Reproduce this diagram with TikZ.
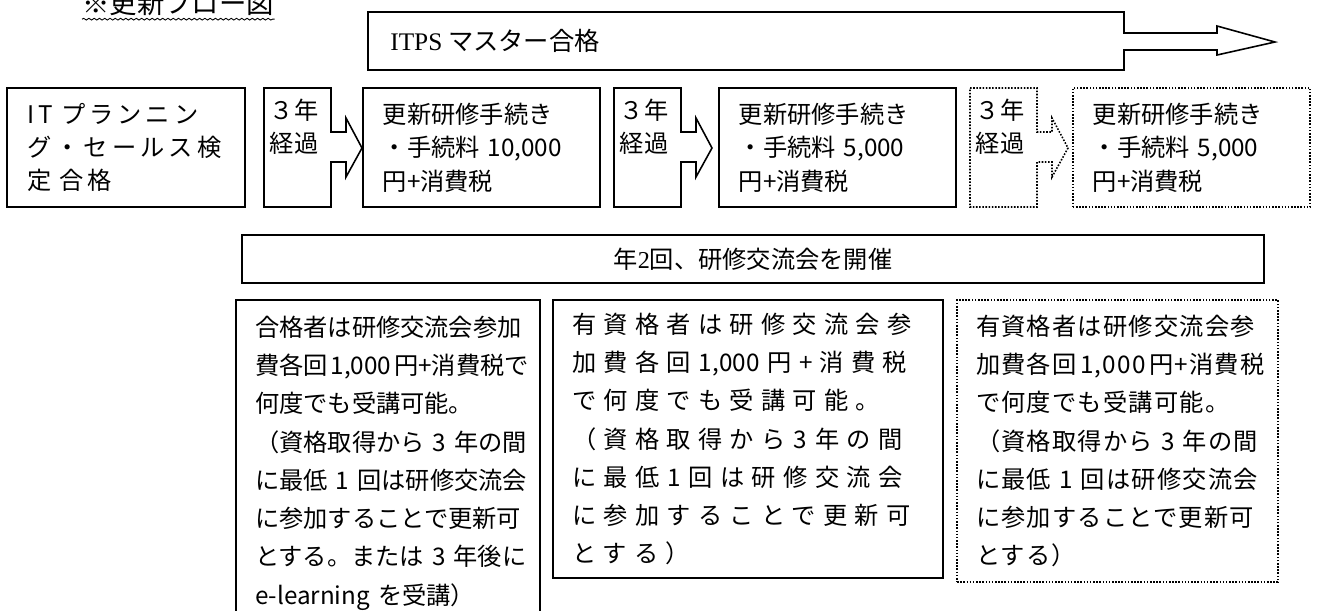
\documentclass[tikz,border=0pt]{standalone}
\usepackage{fontspec}
\usetikzlibrary{positioning}
\usetikzlibrary{decorations.pathmorphing}
\newfontfamily\gothic{Noto Sans CJK JP}
\newfontfamily\gothicspread{Noto Sans CJK JP}[LetterSpace=16.7]
\newfontfamily\gothicwide{Noto Sans CJK JP}[LetterSpace=30]
\newfontfamily\gothicloose{Noto Sans CJK JP}[LetterSpace=5]
\newfontfamily\mincho{Liberation Serif}
\tikzset{
  plainline/.style = {line width=0.9pt},
  dotline/.style = {line width=0.9pt, dash pattern=on 0.9pt off 0.9pt},
  wavy/.style = {decorate, decoration={snake, amplitude=0.5pt, segment length=3pt}, line width=0.5pt},
  titletext/.style = {inner sep=0pt, font=\gothic\fontsize{15.6}{18}\selectfont},
  rowtext/.style = {inner sep=0pt, font=\gothic\fontsize{14.4}{19}\selectfont},
  stepbox/.style = {draw, plainline, inner xsep=0.4cm, inner ysep=0pt, text width=3.95cm, minimum height=2.38cm, align=left, font=\gothic\fontsize{13.8}{19}\selectfont},
  yeartext/.style = {inner sep=0pt, align=left, font=\gothic\fontsize{13.8}{19}\selectfont},
  barbox/.style = {draw, plainline, minimum width=20.44cm, minimum height=0.96cm, inner sep=0pt, font=\gothic\fontsize{13.8}{19}\selectfont},
  notebox/.style = {draw, plainline, inner xsep=0.38cm, inner ysep=0pt, align=left, font=\gothic\fontsize{13.8}{21.8}\selectfont},
}
\begin{document}
\begin{tikzpicture}[x=0.02cm, y=-0.02cm]
\useasboundingbox (0,0) rectangle (1330,610);

% title
\node[titletext, anchor=base west] (ttl) at (82,13) {※更新フロー図};
\draw[wavy] ([yshift=-2pt]ttl.south west) -- ([yshift=-2pt]ttl.south east);

% ITPS master arrow
\draw[plainline] (368,12) -- (1124,12) -- (1124,33) -- (1217,33) -- (1217,26) -- (1275,42) -- (1217,55) -- (1217,50) -- (1124,50) -- (1124,70) -- (368,70) -- cycle;
\node[rowtext, anchor=west] (itps) at (390,41) {{\mincho ITPS}~マスター合格};

% renewal row
\node[stepbox, font=\gothicspread\fontsize{13.8}{19}\selectfont] (b1) at (126,147.5) {IT~プランニン\\グ・セールス検\\定~合格};

\draw[plainline] (264,88) -- ++(67,0) -- ++(0,44) -- ++(15,0) -- ++(0,-14) -- ++(16,30) -- ++(-16,29) -- ++(0,-15) -- ++(-15,0) -- ++(0,45) -- ++(-67,0) -- cycle;
\node[yeartext] (y1) at (294,127) {３年\\経過};

\node[stepbox] (b2) at (481.5,147.5) {更新研修手続き\\・手続料~10,000\\円+消費税};

\draw[plainline] (614,88) -- ++(67,0) -- ++(0,44) -- ++(15,0) -- ++(0,-14) -- ++(16,30) -- ++(-16,29) -- ++(0,-15) -- ++(-15,0) -- ++(0,45) -- ++(-67,0) -- cycle;
\node[yeartext] (y2) at (644,127) {３年\\経過};

\node[stepbox] (b3) at (837.5,147.5) {更新研修手続き\\・手続料~5,000\\円+消費税};

\draw[dotline] (970,88) -- ++(67,0) -- ++(0,44) -- ++(15,0) -- ++(0,-14) -- ++(16,30) -- ++(-16,29) -- ++(0,-15) -- ++(-15,0) -- ++(0,45) -- ++(-67,0) -- cycle;
\node[yeartext] (y3) at (1000,127) {３年\\経過};

\node[stepbox, dotline] (b4) at (1191.5,147.5) {更新研修手続き\\・手続料~5,000\\円+消費税};

% seminar bar
\node[barbox] (bar) at (753,259) {年{\mincho 2}回、研修交流会を開催};

% notes
\node[notebox, text width=5.32cm, minimum height=6.52cm] (c1) at (388,463) {合格者は研修交流会参加\\費各回\kern.12em1,000\kern.12em円+消費税で\\何度でも受講可能。\\（資格取得から~3~年の間\\に最低~1~回は研修交流会\\に参加することで更新可\\とする。または~3~年後に\\e-learning~を受講）};
\node[notebox, text width=7.04cm, minimum height=5.56cm, font=\gothicwide\fontsize{13.8}{21.8}\selectfont] (c2) at (748,439) {有資格者は研修交流会参\\加費各回~{\gothic 1,000}~円+消費税\\で何度でも受講可能。\\（資格取得から~{\gothic 3}~年の間\\に最低~{\gothic 1}~回は研修交流会\\に参加することで更新可\\とする）};
\node[notebox, dotline, text width=5.66cm, minimum height=5.64cm, font=\gothicloose\fontsize{13.8}{21.8}\selectfont] (c3) at (1117.5,441) {有資格者は研修交流会参\\加費各回\kern.15em1,000\kern.15em円+消費税\\で何度でも受講可能。\\（資格取得から~3~年の間\\に最低~1~回は研修交流会\\に参加することで更新可\\とする）};

\end{tikzpicture}
\end{document}
